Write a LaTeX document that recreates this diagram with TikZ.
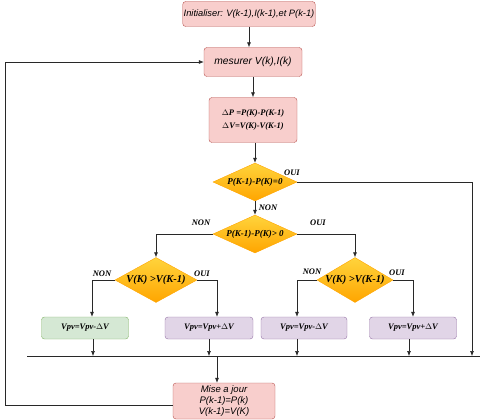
\documentclass[tikz,border=0pt]{standalone}
\usepackage{fontspec}
\setmainfont{Liberation Serif}
\setsansfont{Liberation Sans}
\usetikzlibrary{arrows.meta,shapes.geometric}

\definecolor{redfill}{RGB}{248,206,204}
\definecolor{redline}{RGB}{184,84,80}
\definecolor{greenfill}{RGB}{213,232,212}
\definecolor{greenline}{RGB}{130,179,102}
\definecolor{purplefill}{RGB}{225,213,231}
\definecolor{purpleline}{RGB}{150,115,166}
\definecolor{decitop}{RGB}{255,212,60}
\definecolor{decibot}{RGB}{255,165,0}
\definecolor{wire}{RGB}{40,40,40}

\tikzset{
  redbox/.style={draw=redline, fill=redfill, rounded corners=3pt, align=center,
    inner sep=1pt, font=\sffamily\itshape\fontsize{9.5}{11}\selectfont},
  mathbox/.style={redbox, font=\bfseries\itshape\fontsize{8.5}{13}\selectfont},
  greenbox/.style={draw=greenline, fill=greenfill, rounded corners=3pt,
    font=\bfseries\itshape\fontsize{8.5}{10}\selectfont},
  purplebox/.style={greenbox, draw=purpleline, fill=purplefill},
  decision/.style={diamond, draw=decibot, top color=decitop, bottom color=decibot,
    inner sep=0pt, label={[font=\bfseries\itshape\fontsize{9}{10}\selectfont]center:#1}},
  bigdecision/.style={diamond, draw=decibot, top color=decitop, bottom color=decibot,
    inner sep=0pt, label={[font=\bfseries\itshape\fontsize{10.5}{12}\selectfont]center:#1}},
  answer/.style={font=\bfseries\itshape\fontsize{8.5}{10}\selectfont},
  wire/.style={draw=wire, line width=0.6pt},
}

\begin{document}
\begin{tikzpicture}[x=1pt,y=-1pt,>={Latex[length=5pt,width=4pt]}]
  \useasboundingbox (0,0) rectangle (480,420);
  % process boxes
  \node[redbox, minimum width=132, minimum height=25, font=\sffamily\itshape\fontsize{9.3}{11}\selectfont] (init) at (249,14)
    {Initialiser: V(k-1),I(k-1),et P(k-1)};
  \node[redbox, minimum width=98, minimum height=29, font=\sffamily\itshape\fontsize{10.3}{12}\selectfont] (mes) at (253,62)
    {mesurer V(k),I(k)};
  \node[mathbox, minimum width=88, minimum height=45] (delta) at (253,120)
    {$\Delta$P =P(K)-P(K-1)\\$\Delta$V=V(K)-V(K-1)};
  % decisions
  \node[decision={P(K-1)-P(K)=0}, minimum width=84, minimum height=38] (d1) at (255,182) {};
  \node[decision={P(K-1)-P(K)> 0}, minimum width=84, minimum height=38] (d2) at (255,234) {};
  \node[bigdecision={V(K) >V(K-1)}, minimum width=82, minimum height=45] (d3) at (156,280) {};
  \node[bigdecision={V(K) >V(K-1)}, minimum width=76, minimum height=45] (d4) at (355,280) {};
  % updates
  \node[greenbox, minimum width=87, minimum height=22] (b1) at (85,328) {Vpv=Vpv-$\Delta$V};
  \node[purplebox, minimum width=88, minimum height=22] (b2) at (209,328) {Vpv=Vpv+$\Delta$V};
  \node[purplebox, minimum width=86, minimum height=22] (b3) at (304,328) {Vpv=Vpv-$\Delta$V};
  \node[purplebox, minimum width=87, minimum height=22] (b4) at (413,328) {Vpv=Vpv+$\Delta$V};
  \node[redbox, minimum width=102, minimum height=36] (maj) at (224,401)
    {Mise a jour\\P(k-1)=P(k)\\V(k-1)=V(K)};
  % bus line and corners
  \coordinate (busL) at (27,356);
  \coordinate (busR) at (480,356);
  \coordinate (turn1) at (472,182);
  \coordinate (busin) at (217,356);
  \coordinate (fb) at (5,405);
  \draw[wire] (busL) -- (busR);
  % main chain
  \draw[wire,->] (init) -- (init.south |- mes.north);
  \draw[wire,->] (mes.south -| delta.north) -- (delta.north);
  \draw[wire,->] (delta.south -| d1.north) -- (d1.north);
  \draw[wire,->] (d1) -- (d2);
  \draw[wire,->] (d1.east) -- (turn1) -- (turn1 |- busL);
  \draw[wire,->] (d2.west) -| (d3.north);
  \draw[wire,->] (d2.east) -| (d4.north);
  \draw[wire,->] (d3.west) -| ([xshift=7pt]b1.north);
  \draw[wire,->] (d3.east) -| ([xshift=8pt]b2.north);
  \draw[wire,->] (d4.west) -| ([xshift=-7pt]b3.north);
  \draw[wire,->] (d4.east) -| (b4.north);
  % to the bus
  \draw[wire,->] ([xshift=8pt]b1.south) -- ([xshift=8pt]b1.south |- busL);
  \draw[wire,->] (b2.south) -- (b2.south |- busL);
  \draw[wire,->] ([xshift=-7pt]b3.south) -- ([xshift=-7pt]b3.south |- busL);
  \draw[wire,->] ([xshift=-4pt]b4.south) -- ([xshift=-4pt]b4.south |- busL);
  \draw[wire,->] (busin) -- (busin |- maj.north);
  % feedback
  \draw[wire,->] ([yshift=-4pt]maj.west) -- (fb) |- (mes.west);
  % answers
  \node[answer] (y1) at (292,173) {OUI};
  \node[answer] (n1) at (268,208) {NON};
  \node[answer] (n2) at (201,223) {NON};
  \node[answer] (y2) at (318,223) {OUI};
  \node[answer] (n3) at (102,274) {NON};
  \node[answer] (y3) at (202,274) {OUI};
  \node[answer] (n4) at (312,272) {NON};
  \node[answer] (y4) at (397,273) {OUI};
\end{tikzpicture}
\end{document}
